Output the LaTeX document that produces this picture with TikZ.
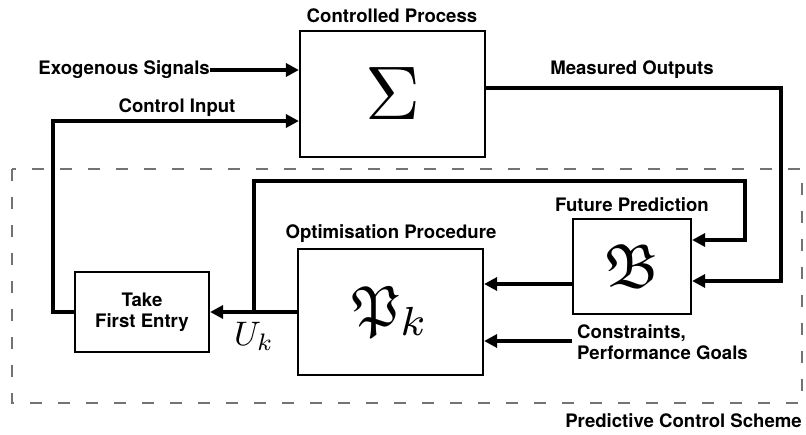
\documentclass[tikz,border=0pt]{standalone}
\usepackage{amsmath,amssymb}
\usepackage{graphicx}
\usepackage{fontspec}
\setmainfont{TeX Gyre Heros}
\usetikzlibrary{arrows.meta}
\begin{document}
\begin{tikzpicture}[x=1pt,y=-1pt,
  box/.style={draw, line width=2.2pt, inner sep=0pt},
  conn/.style={line width=3.5pt},
  arr/.style={conn, -{Triangle[length=13pt,width=13pt]}},
  lbl/.style={font=\fontsize{18.6}{21}\selectfont\bfseries, inner sep=0pt},
  frame/.style={draw=black!55, line width=2pt, dash pattern=on 12pt off 16pt}
]
\useasboundingbox (0,0) rectangle (806,435);
% boxes
\node[box, minimum width=185pt, minimum height=126pt] (sigma) at (392.5,94) {\scalebox{7.6}{$\Sigma$}};
\node[box, minimum width=134pt, minimum height=80pt, lbl, align=center] (take) at (142,312) {Take\\First Entry};
\node[box, minimum width=185pt, minimum height=126pt] (pk) at (390.5,312) {\scalebox{5.8}{$\mathfrak{P}_k$}};
\node[box, minimum width=118pt, minimum height=95pt] (bb) at (632,266.5) {\scalebox{6.2}{$\mathfrak{B}$}};
% frame
\draw[frame] (12,169) rectangle (802,403);
% labels
\node[lbl] (lcp) at (392,16) {Controlled Process};
\node[lbl, anchor=east] (exo) at (210,70) {Exogenous Signals};
\node[lbl] (lci) at (177,108) {Control Input};
\node[lbl] (lmo) at (632,70) {Measured Outputs};
\node[lbl] (lfp) at (632,205) {Future Prediction};
\node[lbl] (lop) at (391,234) {Optimisation Procedure};
\node[lbl, anchor=west, align=left] (lcg) at (577,342) {Constraints,\\Performance Goals};
\node[lbl, anchor=east] (lpc) at (802,421) {Predictive Control Scheme};
\node[inner sep=0pt] (uk) at (254,336) {\scalebox{3.4}{$U_k$}};
% coordinates
\coordinate (ci1) at (53,121);
\coordinate (br) at (254,312);
\coordinate (fb1) at (254,181);
\coordinate (fb2) at (745,181);
\coordinate (fb3) at (745,240);
\coordinate (mo1) at (781,88);
\coordinate (mo2) at (781,281);
\coordinate (bp) at (573,284);
\coordinate (cg) at (572,341);
% connectors
\draw[arr] (exo.east) -- (sigma.west |- exo.east);
\draw[arr] (take.west) -| (ci1) -- (sigma.west |- ci1);
\draw[arr] (pk.west) -- (take.east);
\draw[arr] (br) -- (fb1) -- (fb2) -- (fb3) -- (bb.east |- fb3);
\draw[arr] (sigma.east |- mo1) -- (mo1) -- (mo2) -- (bb.east |- mo2);
\draw[arr] (bb.west |- bp) -- (pk.east |- bp);
\draw[arr] (cg) -- (pk.east |- cg);
\end{tikzpicture}
\end{document}
